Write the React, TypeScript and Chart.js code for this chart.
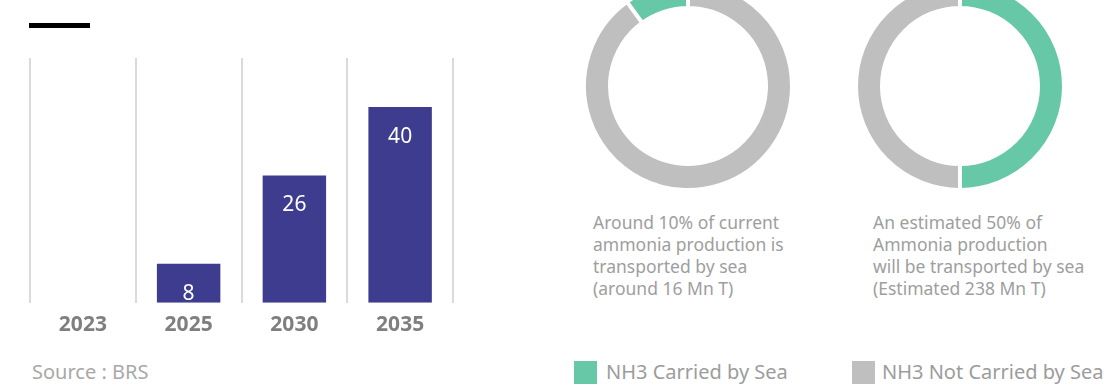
import React, { useEffect, useRef } from "react";
import { Chart, registerables } from "chart.js";

Chart.register(...registerables);

// ---- data ----
const years = ["2023", "2025", "2030", "2035"];
const seaVolumes: (number | null)[] = [null, 8, 26, 40];
const volumeAxisMax = 50;

const shareLabels = ["NH3 Carried by Sea", "NH3 Not Carried by Sea"];
const currentShare = [10, 90];
const futureShare = [50, 50];

const currentCaption = [
  "Around 10% of current",
  "ammonia production is",
  "transported by sea",
  "(around 16 Mn T)",
];
const futureCaption = [
  "An estimated 50% of",
  "Ammonia production",
  "will be transported by sea",
  "(Estimated 238 Mn T)",
];
const sourceText = "Source : BRS";

// ---- styles ----
const FONT = "'Noto Sans', 'Open Sans', sans-serif";
const BAR_COLOR = "#3e3c8f";
const GREEN = "#66c8a6";
const GREY = "#bfbfbf";

const barValuePlugin = {
  id: "barValues",
  afterDatasetsDraw(chart: any) {
    const ctx = chart.ctx;
    const meta = chart.getDatasetMeta(0);
    const data = chart.data.datasets[0].data;
    ctx.save();
    ctx.fillStyle = "#ffffff";
    ctx.font = `21px ${FONT}`;
    ctx.textAlign = "center";
    ctx.textBaseline = "middle";
    meta.data.forEach((el: any, i: number) => {
      const v = data[i];
      if (v == null) return;
      ctx.fillText(String(v), el.x, el.y + 30);
    });
    ctx.restore();
  },
};

function BarChart() {
  const ref = useRef<HTMLCanvasElement>(null);
  useEffect(() => {
    const chart = new Chart(ref.current!, {
      type: "bar",
      data: {
        labels: years,
        datasets: [
          {
            data: seaVolumes as any,
            backgroundColor: BAR_COLOR,
            borderWidth: 0,
            categoryPercentage: 0.6,
            barPercentage: 1,
          },
        ],
      },
      options: {
        animation: false,
        responsive: true,
        maintainAspectRatio: false,
        events: [],
        layout: { padding: { left: 30, right: 27, top: 58, bottom: 4 } },
        plugins: { legend: { display: false }, tooltip: { enabled: false } },
        scales: {
          x: {
            grid: { color: "#dadada", lineWidth: 2, drawTicks: false, offset: true },
            border: { display: false },
            ticks: {
              color: "#7f7f7f",
              padding: 10,
              font: { family: FONT, size: 21, weight: "bold" },
            },
          },
          y: { display: false, min: 0, max: volumeAxisMax },
        },
      },
      plugins: [barValuePlugin],
    });
    return () => chart.destroy();
  }, []);
  return (
    <div style={{ position: "absolute", left: 0, top: 0, width: 480, height: 352 }}>
      <canvas ref={ref} />
    </div>
  );
}

function Donut({ values, rotation, left, top }: { values: number[]; rotation: number; left: number; top: number }) {
  const ref = useRef<HTMLCanvasElement>(null);
  useEffect(() => {
    const chart = new Chart(ref.current!, {
      type: "doughnut",
      data: {
        labels: shareLabels,
        datasets: [
          {
            data: values,
            backgroundColor: [GREEN, GREY],
            borderColor: "#ffffff",
            borderWidth: 4,
          },
        ],
      },
      options: {
        animation: false,
        responsive: true,
        maintainAspectRatio: false,
        events: [],
        cutout: 78,
        rotation,
        layout: { padding: 0 },
        plugins: { legend: { display: false }, tooltip: { enabled: false } },
      },
    });
    return () => chart.destroy();
  }, []);
  return (
    <div style={{ position: "absolute", left, top, width: 212, height: 212 }}>
      <canvas ref={ref} />
    </div>
  );
}

function Caption({ lines, left }: { lines: string[]; left: number }) {
  return (
    <div
      style={{
        position: "absolute",
        left,
        top: 211,
        fontFamily: FONT,
        fontSize: 17.5,
        lineHeight: "22px",
        color: "#9e9e9e",
        whiteSpace: "nowrap",
      }}
    >
      {lines.map((l, i) => (
        <div key={i}>{l}</div>
      ))}
    </div>
  );
}

function LegendItem({ color, label, left, textLeft }: { color: string; label: string; left: number; textLeft: number }) {
  return (
    <>
      <div style={{ position: "absolute", left, top: 361, width: 23, height: 23, background: color }} />
      <div
        style={{
          position: "absolute",
          left: textLeft,
          top: 359,
          fontFamily: FONT,
          fontSize: 20,
          lineHeight: "26px",
          color: "#9c9c9c",
          whiteSpace: "nowrap",
        }}
      >
        {label}
      </div>
    </>
  );
}

export default function App() {
  return (
    <div
      style={{
        position: "fixed",
        left: 0,
        top: 0,
        width: 1120,
        height: 385,
        overflow: "hidden",
        background: "#ffffff",
      }}
    >
      <div style={{ position: "absolute", left: 29, top: 23, width: 61, height: 5, background: "#000" }} />
      <BarChart />
      <div
        style={{
          position: "absolute",
          left: 32,
          top: 359,
          fontFamily: FONT,
          fontSize: 20,
          lineHeight: "26px",
          color: "#a8a8a8",
          whiteSpace: "nowrap",
        }}
      >
        {sourceText}
      </div>
      <Donut values={currentShare} rotation={-36} left={582} top={-20} />
      <Donut values={futureShare} rotation={0} left={854} top={-20} />
      <Caption lines={currentCaption} left={593} />
      <Caption lines={futureCaption} left={873} />
      <LegendItem color={GREEN} label={shareLabels[0]} left={574} textLeft={606} />
      <LegendItem color={GREY} label={shareLabels[1]} left={852} textLeft={882} />
    </div>
  );
}
